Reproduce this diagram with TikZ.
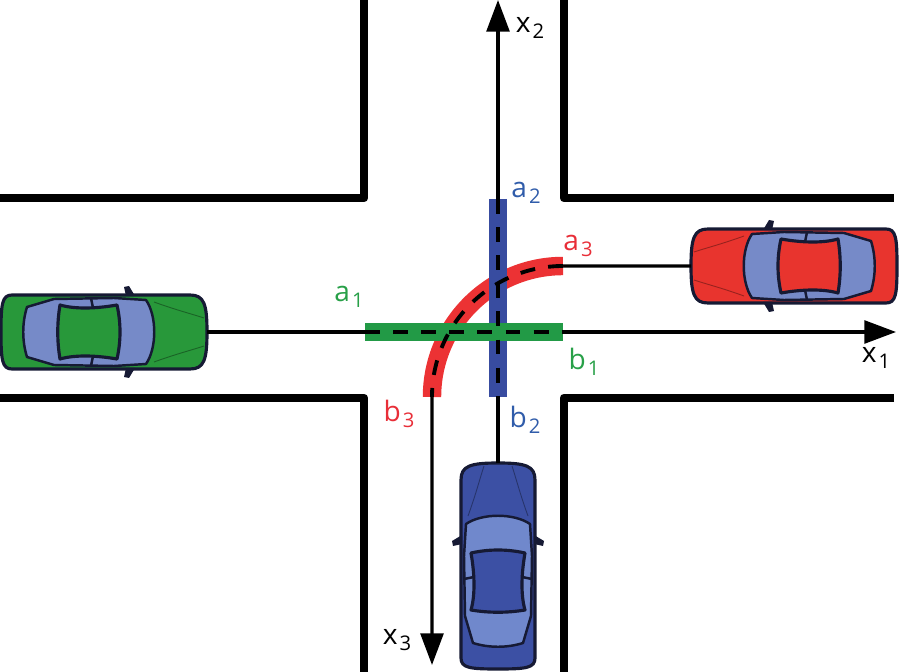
\documentclass[tikz,border=0pt]{standalone}
\usepackage{fontspec}
\setmainfont{Open Sans}
\usepackage{tikz}
\usepackage{xcolor}
\usetikzlibrary{arrows.meta}
\definecolor{barGreen}{RGB}{34,154,70}
\definecolor{barBlue}{RGB}{56,76,160}
\definecolor{barRed}{RGB}{236,50,52}
\definecolor{labGreen}{RGB}{40,160,72}
\definecolor{labBlue}{RGB}{48,92,170}
\definecolor{labRed}{RGB}{232,46,56}
\definecolor{carGreen}{RGB}{40,152,58}
\definecolor{carRed}{RGB}{232,52,46}
\definecolor{carBlue}{RGB}{60,80,164}
\definecolor{glass}{RGB}{118,138,200}
\definecolor{glassBlue}{RGB}{112,136,204}
\definecolor{carOut}{RGB}{22,26,52}
\tikzstyle{road} = [line width=5pt, line join=round]
\tikzstyle{axis} = [line width=1.8pt]
\tikzstyle{bar} = [line width=10.5pt]
\tikzstyle{path} = [line width=2.2pt, dash pattern=on 8.5pt off 7.5pt]
\tikzstyle{carline} = [draw=carOut, line width=1.4pt, line join=round]
\tikzstyle{lbl} = [inner sep=0pt, font=\fontsize{16}{18}\selectfont]
\newcommand{\sublab}[2]{#1\kern1.2pt\raisebox{-3.5pt}{\fontsize{11.5}{12}\selectfont #2}}
\tikzset{
  pics/car/.style 2 args={code={
    \draw[carline, line width=1.8pt, fill=#1] (-92,-37) -- (86,-37) .. controls (100,-37) and (103,-28) .. (103,0)
      .. controls (103,28) and (100,37) .. (86,37) -- (-92,37)
      .. controls (-102,37) and (-103,28) .. (-103,0)
      .. controls (-103,-28) and (-102,-37) .. (-92,-37) -- cycle;
    \draw[black!35!#1, line width=0.5pt] (50,-30) .. controls (72,-22) and (88,-18) .. (100,-14);
    \draw[black!35!#1, line width=0.5pt] (50,30) .. controls (72,22) and (88,18) .. (100,14);
    \fill[carOut] (31,-36) -- (25,-46) -- (20,-45) -- (22,-36) -- cycle;
    \fill[carOut] (31,36) -- (25,46) -- (20,45) -- (22,36) -- cycle;
    \draw[carline, fill=#2] (42,-32) .. controls (53,-16) and (53,16) .. (42,32)
      -- (10,34) -- (-50,33) -- (-77,25) .. controls (-82,9) and (-82,-9) .. (-77,-25)
      -- (-50,-33) -- (10,-34) -- cycle;
    \draw[carline, line width=1.8pt, fill=#1] (13,-27) .. controls (17,-9) and (17,9) .. (13,27)
      .. controls (-10,23) and (-30,23) .. (-44,27)
      .. controls (-47,9) and (-47,-9) .. (-44,-27)
      .. controls (-30,-23) and (-10,-23) .. (13,-27) -- cycle;
    \draw[carline] (-11,-24) -- (-13,-34);
    \draw[carline] (-11,24) -- (-13,34);
  }}
}
\begin{document}
\begin{tikzpicture}[x=0.02cm, y=-0.02cm, >={Triangle[length=18pt,width=13pt]}]
  \useasboundingbox (0,0) rectangle (900,672);
  % road edges
  \draw[road] (364,0) -- (364,198) -- (0,198);
  \draw[road] (564,0) -- (564,198) -- (894,198);
  \draw[road] (0,398) -- (364,398) -- (364,672);
  \draw[road] (894,398) -- (564,398) -- (564,672);

  \pic at (104,332) {car={carGreen}{glass}};
  \pic[rotate=180] at (794,266) {car={carRed}{glass}};
  \pic[rotate=90] at (498,566) {car={carBlue}{glassBlue}};

  \coordinate (gfront) at (207,332);
  \coordinate (rfront) at (691,266);
  \coordinate (bfront) at (498,463);
  \coordinate (x1tip) at (896,332);
  \coordinate (x2tip) at (498,0);
  \coordinate (x3tip) at (432,665);
  \coordinate (a1pt) at (365,332);
  \coordinate (b1pt) at (563,332);
  \coordinate (a2pt) at (498,199);
  \coordinate (b2pt) at (498,397);
  \coordinate (a3pt) at (563,266);

  \draw[axis,->] (gfront) -- (x1tip);
  \draw[axis,->] (bfront) -- (x2tip);
  \draw[axis,->] (rfront) -- (a3pt) arc[start angle=270, end angle=180, radius=131] coordinate (b3pt) -- (x3tip);

  \draw[bar, barRed] (a3pt) arc[start angle=270, end angle=180, radius=131];
  \draw[bar, barBlue] (a2pt) -- (b2pt);
  \draw[bar, barGreen] (a1pt) -- (b1pt);
  \draw[path] (a3pt) arc[start angle=270, end angle=180, radius=131];
  \draw[path] (a2pt) -- (b2pt);
  \draw[path] (a1pt) -- (b1pt);

  \node[lbl, text=labGreen] (a1) at (349,297) {\sublab{a}{1}};
  \node[lbl, text=labGreen] (b1) at (584,362) {\sublab{b}{1}};
  \node[lbl, text=labBlue] (a2) at (526,193) {\sublab{a}{2}};
  \node[lbl, text=labBlue] (b2) at (525,420) {\sublab{b}{2}};
  \node[lbl, text=labRed] (a3) at (578,246) {\sublab{a}{3}};
  \node[lbl, text=labRed] (b3) at (399,414) {\sublab{b}{3}};
  \node[lbl] (x1) at (876,358) {\sublab{x}{1}};
  \node[lbl] (x2) at (530,28) {\sublab{x}{2}};
  \node[lbl] (x3) at (397,640) {\sublab{x}{3}};
\end{tikzpicture}
\end{document}
